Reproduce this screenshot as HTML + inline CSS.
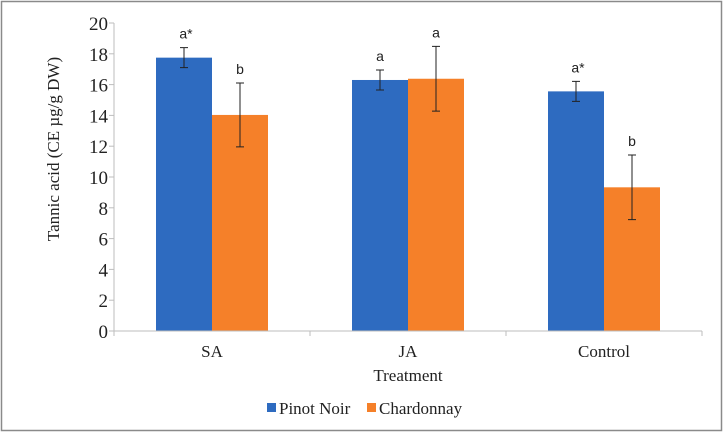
<!DOCTYPE html>
<html><head><meta charset="utf-8"><style>
body{margin:0;background:#fff;}
svg{display:block;}
svg text{font-family:"Liberation Serif","Times New Roman",serif;}
svg text.sans{font-family:"Liberation Sans",Arial,sans-serif;}
</style></head><body>
<svg id="chart" width="724" height="433">
<rect x="1.5" y="1.5" width="720" height="429" fill="#fff" stroke="#8a8a8a" stroke-width="1.5"/>
<g id="plot"></g>
<text x="0" y="0" transform="translate(59,149) rotate(-90)" text-anchor="middle" font-size="17" fill="#222">Tannic  acid (CE µg/g DW)</text>
<text x="408" y="381" text-anchor="middle" font-size="17" fill="#222">Treatment</text>
<g>
<g><rect x="267" y="403" width="9" height="9" fill="#2e6bc0"/><text x="279" y="414" font-size="17" fill="#222">Pinot Noir</text></g>
<g><rect x="367" y="403" width="9" height="9" fill="#f58029"/><text x="379" y="414" font-size="17" fill="#222">Chardonnay</text></g>
</g>
</svg>
<script>
const categories=["SA","JA","Control"];
const pinotValues=[17.75,16.3,15.56];
const pinotErr=[0.65,0.65,0.65];
const chardValues=[14.03,16.38,9.33];
const chardErr=[2.07,2.1,2.1];
const pinotLetters=["a*","a","a*"];
const chardLetters=["b","a","b"];
const yTicks=[0,2,4,6,8,10,12,14,16,18,20];

const NS="http://www.w3.org/2000/svg";
const plot=document.getElementById('plot');
const x0=114,x1=702,yB=331,yT=23,yMax=20;
const y=v=>yB-(v/yMax)*(yB-yT);
const gw=(x1-x0)/categories.length;
const bw=56;
function mk(tag,attrs){const e=document.createElementNS(NS,tag);for(const k in attrs)e.setAttribute(k,attrs[k]);plot.appendChild(e);return e;}

yTicks.forEach(t=>{
  const tl=mk('line',{x1:x0-5,x2:x0,y1:y(t),y2:y(t),stroke:'#bdbdbd'});
  
  
  const tx=mk('text',{x:x0-6,y:y(t)+7,'text-anchor':'end','font-size':19,fill:'#222'});
  tx.textContent=t;
  
  
});
const ya=mk('line',{x1:x0,x2:x0,y1:yT,y2:yB,stroke:'#bdbdbd'});



function bar(cx,v,e,letter,color,name){
  const r=mk('rect',{x:cx,y:y(v),width:bw,height:yB-y(v),fill:color});
  
  
  const mx=cx+bw/2;
  const el=mk('path',{d:`M${mx},${y(v+e)}V${y(v-e)}M${mx-4},${y(v+e)}H${mx+4}M${mx-4},${y(v-e)}H${mx+4}`,stroke:'#222','stroke-width':1,fill:'none'});
  
  
  const t=mk('text',{x:mx+(letter.length>1?2:0),y:y(v+e)-9,'text-anchor':'middle','font-size':14,fill:'#222','class':'sans'});
  t.textContent=letter;
  
  
}
categories.forEach((c,i)=>{
  const cx=x0+gw*i+gw/2;
  bar(cx-bw,pinotValues[i],pinotErr[i],pinotLetters[i],'#2e6bc0','bar-pinot-'+c.toLowerCase());
  bar(cx,chardValues[i],chardErr[i],chardLetters[i],'#f58029','bar-chardonnay-'+c.toLowerCase());
  const l=mk('text',{x:cx,y:357,'text-anchor':'middle','font-size':17,fill:'#222'});
  l.textContent=c;
  
  
});
for(let i=0;i<=categories.length;i++){
  const xx=x0+gw*i;
  const tk=mk('line',{x1:xx,x2:xx,y1:yB,y2:yB+5,stroke:'#bdbdbd'});
  
  
}
const xa=mk('line',{x1:x0,x2:x1,y1:yB,y2:yB,stroke:'#bdbdbd'});


</script>
</body></html>
